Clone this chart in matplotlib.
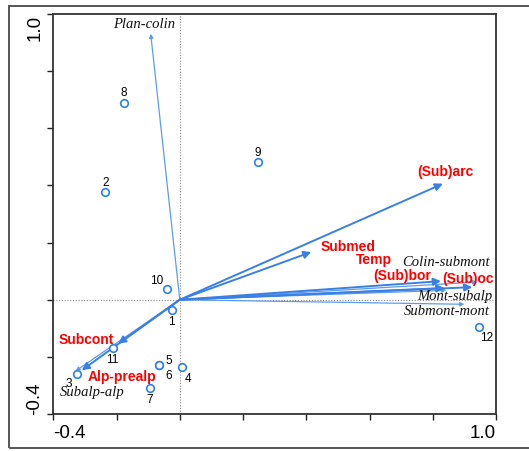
import matplotlib
matplotlib.use("Agg")
import matplotlib.pyplot as plt
from matplotlib.patches import Rectangle

# sites (samples)
site_labels = ["1", "2", "3", "4", "5", "6", "7", "8", "9", "10", "11", "12"]
site_x = [-0.026, -0.235, -0.326, 0.008, -0.065, -0.065, -0.094, -0.176, 0.248, -0.041, -0.21, 0.947]
site_y = [-0.037, 0.377, -0.261, -0.237, -0.227, -0.227, -0.310, 0.689, 0.483, 0.036, -0.169, -0.096]
# label offsets in points
site_dx = [0, 0, -6, 4, 7, 6.5, 0, 0, 0, -7.5, -1, 5]
site_dy = [-7.5, 7.2, -6.2, -7.5, 3.2, -7.2, -7.5, 7.7, 7, 7, -7.7, -7.2]

# chorological types (thick arrows, red labels)
chor_names = ["(Sub)arc", "Submed", "Temp", "(Sub)bor", "(Sub)oc", "Subcont", "Alp-prealp"]
chor_x = [0.832, 0.416, 0.837, 0.826, 0.925, -0.195, -0.31]
chor_y = [0.406, 0.167, 0.041, 0.065, 0.044, -0.154, -0.247]
chor_lx = [445, 348, 374, 402, 468, 86, 122]
chor_ly = [172, 247, 260, 276, 279, 340, 377]

# altitudinal belts (thin arrows, italic labels)
belt_names = ["Plan-colin", "Colin-submont", "Mont-subalp", "Submont-mont", "Subalp-alp"]
belt_x = [-0.092, 0.941, 0.843, 0.9, -0.33]
belt_y = [0.931, 0.062, 0.033, -0.016, -0.25]
belt_lx = [144, 446, 455, 447, 92]
belt_ly = [25, 263, 297, 312, 393]

W, H = 529, 452
fig = plt.figure(figsize=(W / 100, H / 100), dpi=100)
ax = fig.add_axes([53.3 / W, 1 - 415 / H, (496 - 53.3) / W, (415 - 15) / H])

fig.patches.append(Rectangle((9 / W, 3 / H), 1.2, 1 - 10 / H, transform=fig.transFigure,
                             fill=False, ec="#555555", lw=1.4))

ax.set_xlim(-0.4, 1.0)
ax.set_ylim(-0.4, 1.0)
ticks = [-0.4, -0.2, 0.0, 0.2, 0.4, 0.6, 0.8, 1.0]
ax.set_xticks(ticks)
ax.set_yticks(ticks)
ax.set_xticklabels(["-0.4", "", "", "", "", "", "", "1.0"])
ax.set_yticklabels(["-0.4", "", "", "", "", "", "", "1.0"], rotation=90)
ax.tick_params(direction="out", length=4, width=1, color="#222222", labelsize=13.5, pad=3)
for lab in ax.get_xticklabels() + ax.get_yticklabels():
    lab.set_family("Liberation Sans")
# end labels sit inside the axis span
xl = ax.get_xticklabels()
xl[0].set_ha("left")
xl[-1].set_ha("right")
yl = ax.get_yticklabels()
yl[0].set_va("bottom")
yl[-1].set_va("top")
for s in ax.spines.values():
    s.set_color("#333333")
    s.set_linewidth(1.3)

ax.axhline(0, color="#888888", lw=0.8, ls=(0, (1, 1.5)), zorder=1)
ax.axvline(0, color="#888888", lw=0.8, ls=(0, (1, 1.5)), zorder=1)

for x, y in zip(belt_x, belt_y):
    ax.annotate("", xy=(x, y), xytext=(0, 0),
                arrowprops=dict(arrowstyle="-|>", color="#5b9cf0", lw=0.9,
                                mutation_scale=6, shrinkA=0, shrinkB=0), zorder=2)
for x, y in zip(chor_x, chor_y):
    ax.annotate("", xy=(x, y), xytext=(0, 0),
                arrowprops=dict(arrowstyle="-|>", color="#3a80e4", lw=1.4,
                                mutation_scale=11, shrinkA=0, shrinkB=0), zorder=3)

ax.scatter(site_x, site_y, s=30, facecolor="white", edgecolor="#2f7fe8", lw=1.2, zorder=4)
for lab, x, y, dx, dy in zip(site_labels, site_x, site_y, site_dx, site_dy):
    ax.annotate(lab, (x, y), xytext=(dx, dy), textcoords="offset points",
                ha="center", va="center", fontsize=8.5, family="Liberation Sans", zorder=5)

for name, lx, ly in zip(chor_names, chor_lx, chor_ly):
    fig.text(lx / W, 1 - ly / H, name, ha="center", va="center", color="#ff0000",
             fontsize=10, fontweight="bold", family="Liberation Sans")
for name, lx, ly in zip(belt_names, belt_lx, belt_ly):
    fig.text(lx / W, 1 - ly / H, name, ha="center", va="center", color="#111111",
             fontsize=10.5, style="italic", family="Liberation Serif")

fig.savefig("out.png", dpi=100)
